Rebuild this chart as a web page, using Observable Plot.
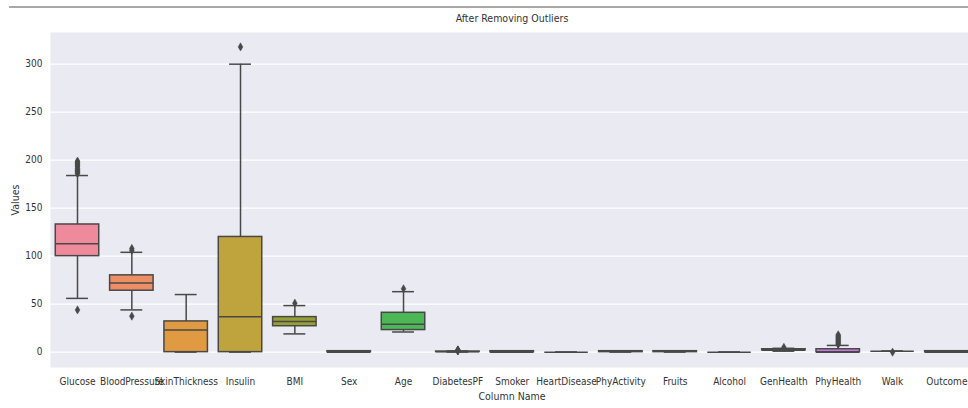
<!DOCTYPE html>
<html>
<head>
<meta charset="utf-8">
<script src="https://cdn.jsdelivr.net/npm/d3@7"></script>
<script src="https://cdn.jsdelivr.net/npm/@observablehq/plot@0.6"></script>
<style>
  body { margin: 0; background: #fff; overflow: hidden; }
  #wrap { position: relative; width: 968px; height: 408px; overflow: hidden; font-family: "DejaVu Sans Condensed", "DejaVu Sans", sans-serif; color: #333; }
  #wrap svg { position: absolute; left: 0; top: 0; max-width: none !important; width: 974px !important; height: 408px !important; }
  .lbl { position: absolute; white-space: nowrap; font-size: 10.5px; }
</style>
</head>
<body>
<div id="wrap">
  <div style="position:absolute;left:9px;top:6px;width:959px;height:2px;background:#a8a8a8"></div>
</div>
<script>
const categories = ["Glucose","BloodPressure","SkinThickness","Insulin","BMI","Sex","Age","DiabetesPF","Smoker","HeartDisease","PhyActivity","Fruits","Alcohol","GenHealth","PhyHealth","Walk","Outcome"];
const q1     = [100, 64,  0,   0, 27,   0, 23, 0.24, 0, 0, 0, 0, 0, 2, 0, 1, 0];
const median = [113, 72, 23,  37, 32,   0, 29, 0.37, 0, 0, 1, 1, 0, 2, 0, 1, 0];
const q3     = [133, 80, 32, 120, 36.5, 1, 41, 0.63, 1, 0, 1, 1, 0, 3, 3, 1, 1];
const whiskerLo = [56, 44,  0,   0, 19,   0, 21, 0.08, 0, 0, 0, 0, 0, 1, 0, 1, 0];
const whiskerHi = [184, 104, 60, 300, 48.5, 1, 63, 1.2, 1, 0, 1, 1, 0, 4, 7, 1, 1];
const outlierCat = ["Glucose","Glucose","Glucose","Glucose","Glucose","Glucose","Glucose","Glucose","Glucose","Glucose","Glucose","Glucose","Glucose","Glucose",
  "BloodPressure","BloodPressure","BloodPressure","Insulin","BMI","Age",
  "DiabetesPF","DiabetesPF","DiabetesPF","DiabetesPF","DiabetesPF",
  "GenHealth","PhyHealth","PhyHealth","PhyHealth","PhyHealth","PhyHealth","PhyHealth","PhyHealth","PhyHealth","PhyHealth","PhyHealth","PhyHealth","Walk"];
const outlierVal = [44,186,187,188,189,190,191,193,194,195,196,197,198,199,
  37.5,106,108,318,51,66,
  1.3,1.5,1.7,2.0,2.4,
  5,8,9,10,11,12,13,14,15,16,17,18,0];
const yTicks = [0, 50, 100, 150, 200, 250, 300];
const title = "After Removing Outliers";
const xLabel = "Column Name";
const yLabel = "Values";
const palette = ["#ee8a9b","#ec8f64","#e09a42","#bfa33d","#98a035","#7aa830","#4cb755","#33b07a","#34ae94","#36acaa","#38aabb","#3ba3d6","#6e9af0","#ab8bf4","#d67ef1","#f561dd","#f66aae"];

const boxes = categories.map((c, i) => ({cat: c, q1: q1[i], med: median[i], q3: q3[i], lo: whiskerLo[i], hi: whiskerHi[i]}));
const outliers = outlierCat.map((c, i) => ({cat: c, v: outlierVal[i]}));
const edge = "#484848";

const chart = Plot.plot({
  width: 974,
  height: 408,
  marginTop: 32,
  marginBottom: 41,
  marginLeft: 50,
  marginRight: 1,
  style: {background: "transparent", fontFamily: "'DejaVu Sans Condensed', 'DejaVu Sans', sans-serif", fontSize: "10px", color: "#333", maxWidth: "none"},
  x: {domain: categories, range: [44.4, 979], padding: 0.2, round: false, tickSize: 0, tickPadding: 10, label: null},
  y: {domain: [-16, 333], ticks: yTicks, tickSize: 0, tickPadding: 8, label: null},
  color: {domain: categories, range: palette},
  marks: [
    Plot.frame({fill: "#eaeaf2", stroke: null}),
    Plot.ruleY(yTicks, {stroke: "#ffffff", strokeWidth: 1.3}),
    Plot.ruleX(boxes, {x: "cat", y1: "lo", y2: "hi", stroke: edge, strokeWidth: 1.5}),
    Plot.tickY(boxes, {x: "cat", y: "lo", stroke: edge, strokeWidth: 1.5, insetLeft: 10.8, insetRight: 10.8}),
    Plot.tickY(boxes, {x: "cat", y: "hi", stroke: edge, strokeWidth: 1.5, insetLeft: 10.8, insetRight: 10.8}),
    Plot.barY(boxes, {x: "cat", y1: "q1", y2: "q3", fill: "cat", stroke: edge, strokeWidth: 1.5}),
    Plot.tickY(boxes, {x: "cat", y: "med", stroke: edge, strokeWidth: 1.5}),
    Plot.dot(outliers, {x: "cat", y: "v", symbol: "diamond", r: 2.5, fill: edge, stroke: edge, strokeWidth: 0.5})
  ]
});
const wrap = document.getElementById("wrap");
wrap.appendChild(chart);

function addLabel(text, css) {
  const d = document.createElement("div");
  d.className = "lbl";
  d.textContent = text;
  d.style.cssText += css;
  wrap.appendChild(d);
}
addLabel(title, "left:0;top:12px;width:1024px;text-align:center;");
addLabel(xLabel, "left:0;top:390px;width:1024px;text-align:center;");
addLabel(yLabel, "left:15px;top:200px;transform:translate(-50%,-50%) rotate(-90deg);");
</script>
</body>
</html>
